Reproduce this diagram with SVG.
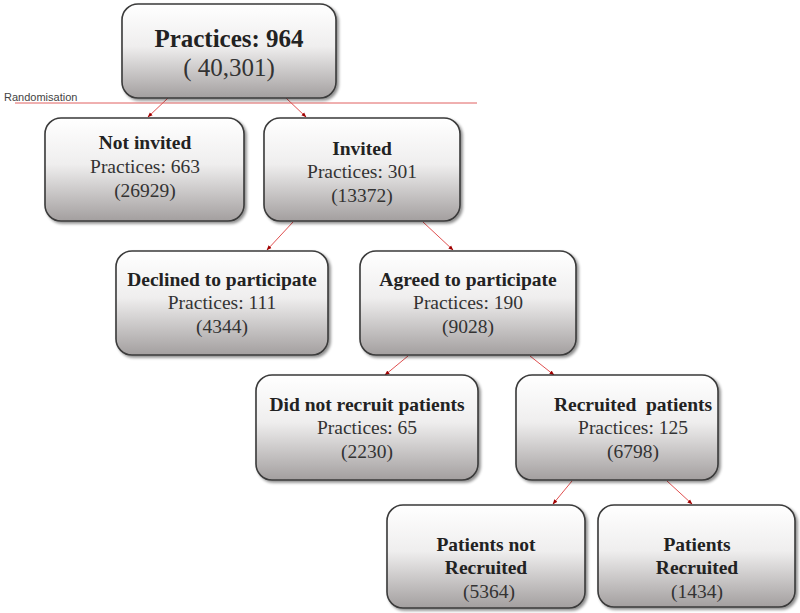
<svg xmlns="http://www.w3.org/2000/svg" width="800" height="613" viewBox="0 0 800 613">
<defs>
<linearGradient id="g" x1="0" y1="0" x2="0" y2="1">
<stop offset="0" stop-color="#ffffff"/>
<stop offset="0.45" stop-color="#efeeee"/>
<stop offset="1" stop-color="#a39f9f"/>
</linearGradient>
<filter id="sh" x="-10%" y="-10%" width="130%" height="130%">
<feGaussianBlur in="SourceAlpha" stdDeviation="1.5"/>
<feOffset dx="1.5" dy="2" result="o"/>
<feComponentTransfer><feFuncA type="linear" slope="0.45"/></feComponentTransfer>
<feMerge><feMergeNode/><feMergeNode in="SourceGraphic"/></feMerge>
</filter>
<marker id="ah" viewBox="0 0 10 10" refX="9" refY="5" markerWidth="5" markerHeight="5" orient="auto">
<path d="M0,1 L10,5 L0,9 z" fill="#a00000"/>
</marker>
</defs>
<style>
.box{fill:url(#g);stroke:#3a3a3a;stroke-width:1.6;filter:url(#sh)}
text{font-family:"Liberation Serif","DejaVu Serif",serif;fill:#222;text-anchor:middle}
.t{font-weight:bold;font-size:19.5px}
.n{font-size:19.5px;fill:#333}
.c{stroke:#e05050;stroke-width:1;fill:none;marker-end:url(#ah)}
</style>
<g id="connectors">
<line x1="15" y1="103" x2="477" y2="103" stroke="#e06060" stroke-width="1"/>
<line class="c" x1="168" y1="98" x2="148" y2="117"/>
<line class="c" x1="286" y1="98" x2="306" y2="117"/>
<line class="c" x1="293" y1="222" x2="267" y2="250"/>
<line class="c" x1="423" y1="222" x2="453" y2="250"/>
<line class="c" x1="408" y1="356" x2="385" y2="375"/>
<line class="c" x1="530" y1="356" x2="554" y2="375"/>
<line class="c" x1="572" y1="481" x2="553" y2="504"/>
<line class="c" x1="667" y1="481" x2="692" y2="504"/>
</g>
<text x="4" y="101" style="font-family:'Liberation Sans','DejaVu Sans',sans-serif;font-size:11px;text-anchor:start;fill:#444">Randomisation</text>
<g id="top">
<rect class="box" x="122" y="4" width="214" height="94" rx="16"/>
<text x="229" y="47" style="font-weight:bold;font-size:25px">Practices: 964</text>
<text x="229" y="76" style="font-size:25px;fill:#333">( 40,301)</text>
</g>
<g id="not-invited">
<rect class="box" x="45" y="118" width="199" height="103" rx="16"/>
<text class="t" x="145" y="149">Not invited</text>
<text class="n" x="145" y="173">Practices: 663</text>
<text class="n" x="145" y="197">(26929)</text>
</g>
<g id="invited">
<rect class="box" x="264" y="118" width="196" height="103" rx="16"/>
<text class="t" x="362" y="155">Invited</text>
<text class="n" x="362" y="178">Practices: 301</text>
<text class="n" x="362" y="202">(13372)</text>
</g>
<g id="declined">
<rect class="box" x="116" y="251" width="212" height="104" rx="16"/>
<text class="t" x="222" y="286">Declined to participate</text>
<text class="n" x="222" y="309">Practices: 111</text>
<text class="n" x="222" y="333">(4344)</text>
</g>
<g id="agreed">
<rect class="box" x="360" y="251" width="216" height="104" rx="16"/>
<text class="t" x="468" y="286">Agreed to participate</text>
<text class="n" x="468" y="309">Practices: 190</text>
<text class="n" x="468" y="333">(9028)</text>
</g>
<g id="did-not-recruit">
<rect class="box" x="256" y="375" width="222" height="105" rx="16"/>
<text class="t" x="367" y="411">Did not recruit patients</text>
<text class="n" x="367" y="434">Practices: 65</text>
<text class="n" x="367" y="458">(2230)</text>
</g>
<g id="recruited">
<rect class="box" x="516" y="375" width="202" height="105" rx="16"/>
<text class="t" x="633" y="411" style="white-space:pre">Recruited  patients</text>
<text class="n" x="633" y="434">Practices: 125</text>
<text class="n" x="633" y="458">(6798)</text>
</g>
<g id="patients-not-recruited">
<rect class="box" x="387" y="505" width="198" height="103" rx="16"/>
<text class="t" x="486" y="551">Patients not</text>
<text class="t" x="486" y="574">Recruited</text>
<text class="n" x="489" y="598">(5364)</text>
</g>
<g id="patients-recruited">
<rect class="box" x="598" y="505" width="197" height="102" rx="16"/>
<text class="t" x="697" y="551">Patients</text>
<text class="t" x="697" y="574">Recruited</text>
<text class="n" x="697" y="598">(1434)</text>
</g>
</svg>
